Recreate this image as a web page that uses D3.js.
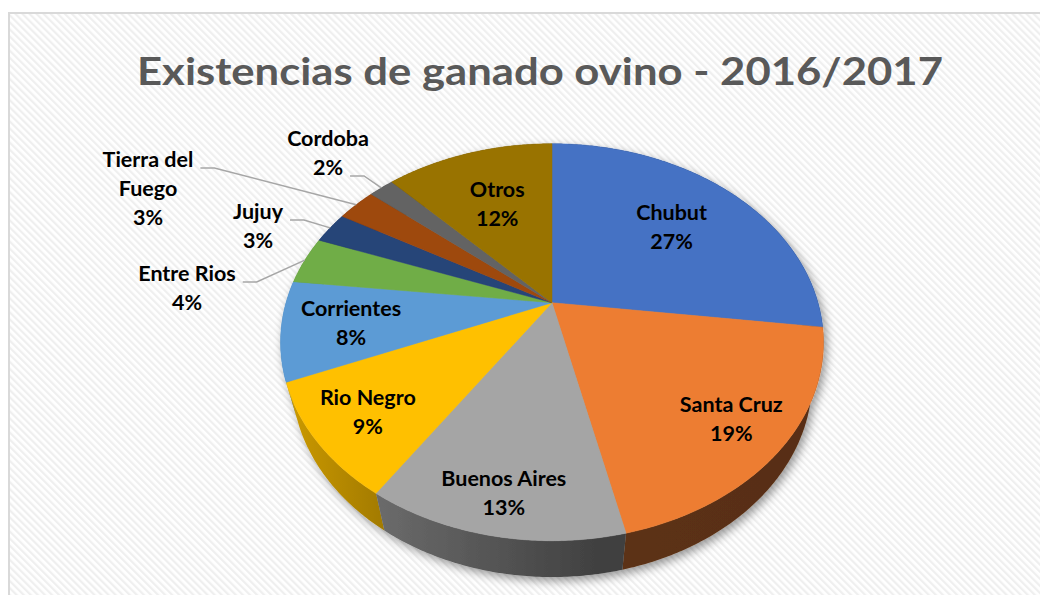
<!DOCTYPE html>
<html>
<head>
<meta charset="utf-8">
<script src="https://cdn.jsdelivr.net/npm/d3@7"></script>
<style>
body { margin: 0; background: #fff; }
svg { display: block; }
</style>
</head>
<body>
<div id="grafica"></div>
<script>
var provincias = ['Chubut', 'Santa Cruz', 'Buenos Aires', 'Rio Negro', 'Corrientes', 'Entre Rios', 'Jujuy', 'Tierra del Fuego', 'Cordoba', 'Otros'];
var porcentajes = [27.0, 19.4, 12.9, 9.4, 8.1, 3.9, 2.6, 2.8, 1.8, 12.1];
var colores = ['#4472C4', '#ED7D31', '#A5A5A5', '#FFC000', '#5B9BD5', '#70AD47', '#264478', '#9E480E', '#636363', '#997300'];
var titulo = 'Existencias de ganado ovino - 2016/2017';

var ancho = 1040, alto = 595;
var fuente = 'Lato, "Open Sans", sans-serif';

var svg = d3.select('#grafica')
	.append('svg')
	.attr('width', ancho)
	.attr('height', alto);

var defs = svg.append('defs');

// fondo rayado
var rayas = defs.append('pattern')
	.attr('id', 'rayas')
	.attr('patternUnits', 'userSpaceOnUse')
	.attr('width', 5)
	.attr('height', 5)
	.attr('patternTransform', 'rotate(-45)');
rayas.append('rect').attr('width', 5).attr('height', 5).attr('fill', '#ffffff');
rayas.append('rect').attr('width', 2.2).attr('height', 5).attr('fill', '#efefef');

var sombra = defs.append('filter')
	.attr('id', 'sombra')
	.attr('x', '-20%').attr('y', '-20%')
	.attr('width', '140%').attr('height', '140%');
sombra.append('feDropShadow')
	.attr('dx', 3).attr('dy', 4)
	.attr('stdDeviation', 5)
	.attr('flood-color', '#000')
	.attr('flood-opacity', 0.4);

svg.append('rect')
	.attr('x', 9).attr('y', 13)
	.attr('width', 1100).attr('height', 700)
	.attr('fill', 'url(#rayas)')
	.attr('stroke', '#d9d9d9')
	.attr('stroke-width', 2);

// titulo
svg.append('text')
	.attr('x', 540)
	.attr('y', 85)
	.attr('text-anchor', 'middle')
	.attr('font-family', fuente)
	.attr('font-weight', 'bold')
	.attr('font-size', 38)
	.attr('fill', '#595959')
	.attr('textLength', 806)
	.attr('lengthAdjust', 'spacingAndGlyphs')
	.text(titulo);

// torta 3D con perspectiva
var cx = 552, cy = 302.7;
var dist = 3.57;            // distancia camara / radio
var inclina = 44.7 * Math.PI / 180;
var sa = Math.sin(inclina), ca = Math.cos(inclina);
var espesor = 0.21;
var equis = d3.scaleLinear().domain([-1, 1]).range([cx - 266, cx + 266]);
var ye = d3.scaleLinear().domain([-1, 1]).range([cy + 271, cy - 271]);

function proy(ang, r, w) {
	var u = r * Math.sin(ang), v = r * Math.cos(ang);
	var Y = v * sa + w * ca;
	var Z = dist + v * ca - w * sa;
	return [equis(u * dist / Z), ye(Y * dist / Z)];
}

function arco(a0, a1, r, w) {
	var n = Math.max(2, Math.ceil((a1 - a0) / 0.01));
	return d3.range(n + 1).map(function (i) { return proy(a0 + (a1 - a0) * i / n, r, w); });
}

var total = d3.sum(porcentajes);
var rebanadas = d3.pie().sort(null).startAngle(0).endAngle(2 * Math.PI)(porcentajes);
rebanadas.forEach(function (d, i) {
	d.nombre = provincias[i];
	d.color = colores[i];
	d.medio = (d.startAngle + d.endAngle) / 2;
	d.pct = Math.round(d.value / total * 100) + '%';
});

// degradado de las paredes
function oscurece(c, k) {
	var q = d3.rgb(c);
	return d3.rgb(q.r * k, q.g * k, q.b * k).formatHex();
}
rebanadas.forEach(function (d, i) {
	var g = defs.append('linearGradient')
		.attr('id', 'pared' + i)
		.attr('gradientUnits', 'userSpaceOnUse')
		.attr('x1', equis(-1)).attr('x2', equis(1))
		.attr('y1', 0).attr('y2', 0);
	[[0, 0.8], [0.18, 0.64], [0.59, 0.39], [1, 0.37]].forEach(function (s) {
		g.append('stop').attr('offset', s[0]).attr('stop-color', oscurece(d.color, s[1]));
	});
});

var torta = svg.append('g').attr('filter', 'url(#sombra)');
var linea = d3.line();

var paredes = rebanadas.slice().sort(function (a, b) { return Math.cos(b.medio) - Math.cos(a.medio); });
torta.selectAll('path.pared')
	.data(paredes)
	.join('path')
	.attr('class', 'pared')
	.attr('fill', function (d) { return 'url(#pared' + d.index + ')'; })
	.attr('d', function (d) {
		var arriba = arco(d.startAngle, d.endAngle, 1, 0);
		var abajo = arco(d.startAngle, d.endAngle, 1, -espesor).reverse();
		return linea(arriba.concat(abajo)) + 'Z';
	});

torta.selectAll('path.tapa')
	.data(rebanadas)
	.join('path')
	.attr('class', 'tapa')
	.attr('fill', function (d) { return d.color; })
	.attr('stroke', function (d) { return d.color; })
	.attr('stroke-width', 0.5)
	.attr('d', function (d) {
		return linea([proy(0, 0, 0)].concat(arco(d.startAngle, d.endAngle, 1, 0))) + 'Z';
	});

// etiquetas
var fuera = {
	'Cordoba': { x: 328, y: 146, enlace: 1 },
	'Tierra del Fuego': { x: 148, y: 167, enlace: 0 },
	'Jujuy': { x: 258, y: 219, enlace: 0 },
	'Entre Rios': { x: 187, y: 281, enlace: 0 }
};
var salto = 29;

var etiquetas = svg.append('g')
	.attr('font-family', fuente)
	.attr('font-weight', 'bold')
	.attr('font-size', 21.5)
	.attr('fill', '#000')
	.attr('text-anchor', 'middle');

rebanadas.forEach(function (d) {
	var pos = fuera[d.nombre];
	if (pos) {
		var partes = d.nombre.length > 12
			? [d.nombre.slice(0, d.nombre.lastIndexOf(' ')), d.nombre.slice(d.nombre.lastIndexOf(' ') + 1)]
			: [d.nombre];
		var lineas = partes.concat([d.pct]);
		var anchos = lineas.map(function (t, k) {
			var tx = etiquetas.append('text')
				.attr('x', pos.x)
				.attr('y', pos.y + k * salto)
				.text(t);
			return tx.node().getComputedTextLength();
		});
		var ax = pos.x + anchos[pos.enlace] / 2 + 7;
		var ay = pos.y + pos.enlace * salto + 1;
		var borde = proy(d.medio, 1, 0);
		svg.append('path')
			.attr('d', linea([[ax, ay], [ax + 14, ay], borde]))
			.attr('fill', 'none')
			.attr('stroke', '#a6a6a6')
			.attr('stroke-width', 1.5);
	} else {
		var r = 0.73 - 0.12 * Math.cos(d.medio);
		var p = proy(d.medio, r, 0);
		etiquetas.append('text').attr('x', p[0]).attr('y', p[1] - 7).text(d.nombre);
		etiquetas.append('text').attr('x', p[0]).attr('y', p[1] + 22).text(d.pct);
	}
});
</script>
</body>
</html>
